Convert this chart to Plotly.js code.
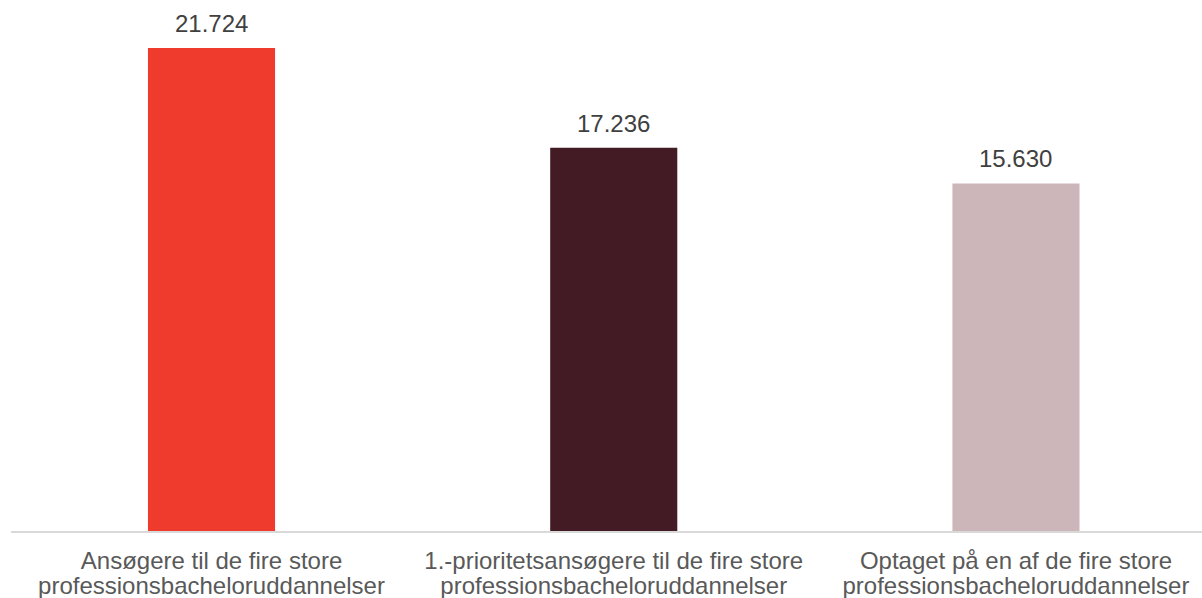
<!DOCTYPE html>
<html>
<head>
<meta charset="utf-8">
<script src="https://cdn.plot.ly/plotly-3.0.1.min.js"></script>
<style>html,body{margin:0;padding:0;background:#fff;}#chart{width:1202px;height:598px;}</style>
</head>
<body>
<div id="chart"></div>
<script>
const categories = [
  "Ansøgere til de fire store<br>professionsbacheloruddannelser",
  "1.-prioritetsansøgere til de fire store<br>professionsbacheloruddannelser",
  "Optaget på en af de fire store<br>professionsbacheloruddannelser"
];
const values = [21724, 17236, 15630];
const barColors = ["#EE3B2E", "#431B25", "#CDB6BA"];

const FONT = "Liberation Sans, Arial, sans-serif";
const idx = categories.map((c, i) => i);
const line1 = categories.map(c => c.split("<br>")[0]);
const line2 = categories.map(c => c.split("<br>")[1]);
const fmt = v => String(v).replace(/\B(?=(\d{3})+(?!\d))/g, ".");

const trace = {
  type: "bar",
  x: idx,
  y: values,
  marker: {color: barColors},
  hoverinfo: "none"
};
// invisible helper so the second-line tick axis is drawn
const helper = {
  type: "scatter", mode: "none",
  x: idx, y: values, xaxis: "x2", yaxis: "y",
  hoverinfo: "none", showlegend: false
};

const xr = [-0.4985, 2.4625];
const layout = {
  width: 1202, height: 598,
  margin: {l: 11, r: 0, t: 0, b: 67},
  paper_bgcolor: "#fff", plot_bgcolor: "#fff",
  bargap: 0.684,
  showlegend: false,
  font: {family: FONT},
  xaxis: {
    range: xr,
    tickmode: "array", tickvals: idx, ticktext: line1,
    ticklabelstandoff: 7,
    showline: true, linecolor: "#D9D9D9", linewidth: 2,
    ticks: "", showgrid: false, zeroline: false,
    tickfont: {family: FONT, size: 24, color: "#595959"}
  },
  xaxis2: {
    range: xr, overlaying: "x", side: "bottom", anchor: "y",
    tickmode: "array", tickvals: idx, ticktext: line2,
    ticklabelstandoff: 38,
    showline: false, ticks: "", showgrid: false, zeroline: false,
    tickfont: {family: FONT, size: 24, color: "#595959"}
  },
  yaxis: {
    range: [0, 23883],
    visible: false, showgrid: false, zeroline: false
  },
  annotations: values.map((v, i) => ({
    x: idx[i], y: v, xref: "x", yref: "y",
    text: fmt(v), showarrow: false,
    yanchor: "bottom", yshift: 9,
    font: {family: FONT, size: 24, color: "#404040"}
  }))
};

Plotly.newPlot("chart", [trace, helper], layout, {displayModeBar: false, staticPlot: true});
</script>
</body>
</html>
